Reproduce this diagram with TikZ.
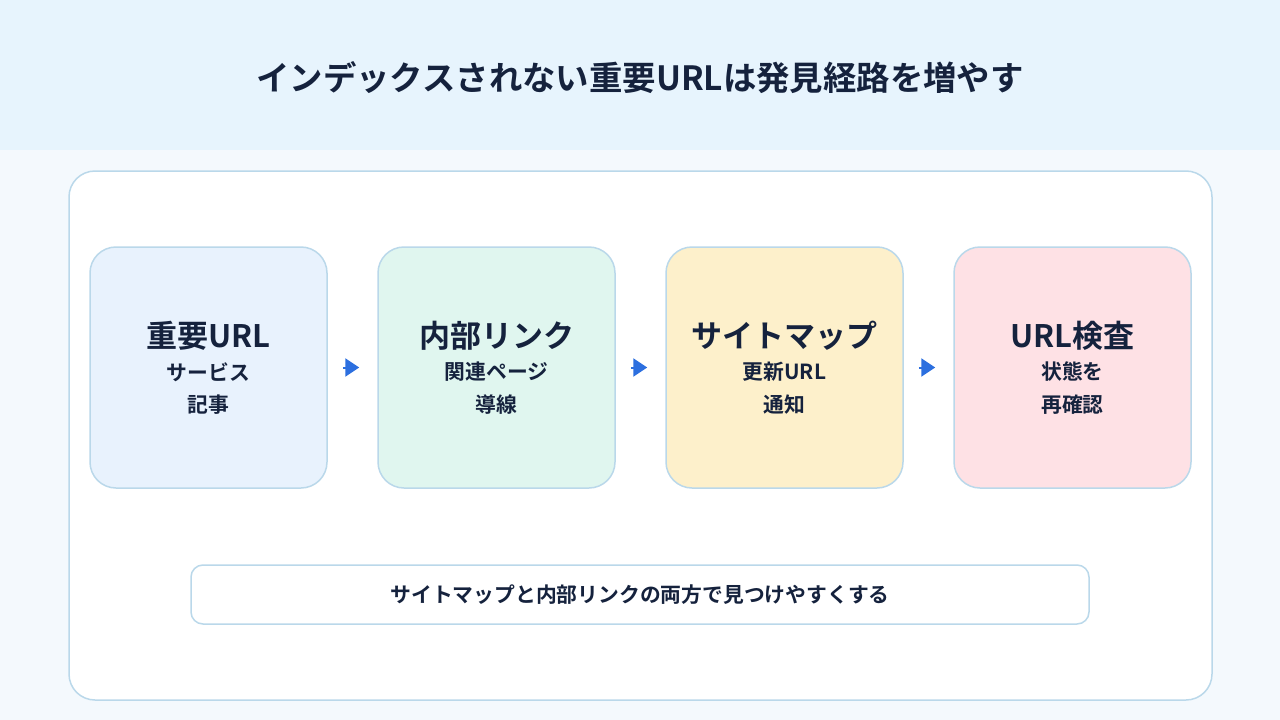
\documentclass[tikz,border=0pt]{standalone}
\usepackage{fontspec}
\setmainfont{Noto Sans CJK JP}[BoldFont={Noto Sans CJK JP Bold}]
\usetikzlibrary{arrows.meta}

\definecolor{ink}{HTML}{15223D}
\definecolor{edge}{HTML}{BAD8EA}
\definecolor{headbg}{HTML}{E7F4FD}
\definecolor{pagebg}{HTML}{F4F9FD}
\definecolor{cblue}{HTML}{E8F2FD}
\definecolor{cmint}{HTML}{E0F6EF}
\definecolor{cyellow}{HTML}{FDF0CB}
\definecolor{cpink}{HTML}{FEE1E5}
\definecolor{arrblue}{HTML}{2C6FDF}

\begin{document}
\begin{tikzpicture}[x=1pt, y=-1pt,
    card/.style={draw=edge, line width=1.5pt, rounded corners=26pt,
      minimum width=237pt, minimum height=241pt, inner sep=0pt},
    ttl/.style={text=ink, font=\fontsize{31}{35}\selectfont\bfseries},
    sub/.style={text=ink, font=\fontsize{20.8}{24}\selectfont\bfseries},
    arr/.style={arrblue, line width=2pt, shorten <=15pt, shorten >=18pt,
      -{Triangle[length=14pt,width=18pt]}}]
    \useasboundingbox (0,0) rectangle (1280,720);
    \fill[pagebg] (0,0) rectangle (1280,720);
    \fill[headbg] (0,0) rectangle (1280,150);
    \node[text=ink, font=\fontsize{33.4}{38}\selectfont\bfseries] (title) at (640,78)
      {インデックスされない重要URLは発見経路を増やす};

    \draw[fill=white, draw=edge, line width=1.5pt, rounded corners=26pt] (69,171) rectangle (1212,700);

    \node[card, fill=cblue] (b1) at (208.5,367.5) {};
    \node[card, fill=cmint] (b2) at (496.5,367.5) {};
    \node[card, fill=cyellow] (b3) at (784.5,367.5) {};
    \node[card, fill=cpink] (b4) at (1072.5,367.5) {};

    \node[ttl] (t1) at ([yshift=32pt]b1.center) {重要URL};
    \node[sub] (s1a) at ([yshift=-4.5pt]b1.center) {サービス};
    \node[sub] (s1b) at ([yshift=-37.5pt]b1.center) {記事};

    \node[ttl] (t2) at ([yshift=32pt]b2.center) {内部リンク};
    \node[sub] (s2a) at ([yshift=-4.5pt]b2.center) {関連ページ};
    \node[sub] (s2b) at ([yshift=-37.5pt]b2.center) {導線};

    \node[ttl] (t3) at ([yshift=32pt]b3.center) {サイトマップ};
    \node[sub] (s3a) at ([yshift=-4.5pt]b3.center) {更新URL};
    \node[sub] (s3b) at ([yshift=-37.5pt]b3.center) {通知};

    \node[ttl] (t4) at ([yshift=32pt]b4.center) {URL検査};
    \node[sub] (s4a) at ([yshift=-4.5pt]b4.center) {状態を};
    \node[sub] (s4b) at ([yshift=-37.5pt]b4.center) {再確認};

    \draw[arr] (b1.east) -- (b2.west);
    \draw[arr] (b2.east) -- (b3.west);
    \draw[arr] (b3.east) -- (b4.west);

    \node[draw=edge, line width=1.5pt, fill=white, rounded corners=12pt,
      minimum width=898pt, minimum height=59pt, sub] (note) at (640,594.5)
      {サイトマップと内部リンクの両方で見つけやすくする};
\end{tikzpicture}
\end{document}
